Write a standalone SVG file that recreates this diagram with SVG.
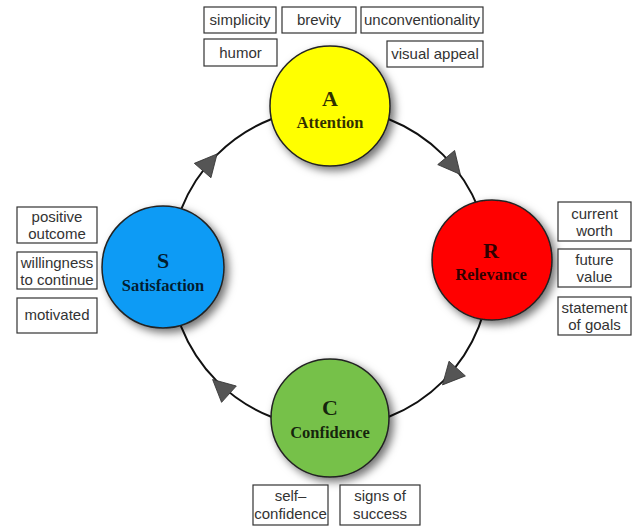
<svg xmlns="http://www.w3.org/2000/svg" width="638" height="527" viewBox="0 0 638 527">
<defs>
<filter id="sh" x="-30%" y="-30%" width="160%" height="160%">
<feDropShadow dx="4" dy="4" stdDeviation="4" flood-color="#000" flood-opacity="0.55"/>
</filter>
<style>
.box{fill:#fff;stroke:#333;stroke-width:1.2}
.lbl{font-family:"Liberation Sans",Arial,sans-serif;font-size:15px;fill:#333;text-anchor:middle}
.node{stroke:#222;stroke-width:1.5;filter:url(#sh)}
.big{font-family:"Liberation Serif","Times New Roman",serif;font-weight:bold;font-size:22px;text-anchor:middle;fill:#000;fill-opacity:0.82}
.name{font-family:"Liberation Serif","Times New Roman",serif;font-weight:bold;font-size:16.5px;text-anchor:middle;fill:#000;fill-opacity:0.82}
.ring{fill:none;stroke:#111;stroke-width:2}
.arr{fill:#555;stroke:#333;stroke-width:0.8}
</style>
</defs>
<rect width="638" height="527" fill="#fff"/>
<g id="connectors">
<circle class="ring" cx="330" cy="268" r="160"/>
<polygon class="arr" points="12,0 -10,-11 -10,11" transform="translate(452.6,165.2) rotate(50)"/>
<polygon class="arr" points="12,0 -10,-11 -10,11" transform="translate(450.5,376) rotate(132)"/>
<polygon class="arr" points="12,0 -10,-11 -10,11" transform="translate(221.5,387.5) rotate(222)"/>
<polygon class="arr" points="12,0 -10,-11 -10,11" transform="translate(209.2,163) rotate(311)"/>
</g>
<g id="node-A">
<circle class="node" cx="330" cy="106" r="60" fill="#ffff00"/>
<text class="big" x="330" y="106">A</text>
<text class="name" x="330" y="128">Attention</text>
</g>
<g id="node-R">
<circle class="node" cx="492" cy="260" r="60" fill="#ff0000"/>
<text class="big" x="491" y="258">R</text>
<text class="name" x="491" y="280">Relevance</text>
</g>
<g id="node-C">
<circle class="node" cx="330" cy="418" r="59" fill="#76c14a"/>
<text class="big" x="330" y="415">C</text>
<text class="name" x="330" y="438">Confidence</text>
</g>
<g id="node-S">
<circle class="node" cx="163" cy="267" r="61" fill="#0a9bf5"/>
<text class="big" x="163" y="268">S</text>
<text class="name" x="163" y="291">Satisfaction</text>
</g>
<g id="box-simplicity"><rect class="box" x="204" y="7" width="72" height="26"/><text class="lbl" x="240" y="25">simplicity</text></g>
<g id="box-brevity"><rect class="box" x="282" y="7" width="74" height="26"/><text class="lbl" x="319" y="25">brevity</text></g>
<g id="box-unconventionality"><rect class="box" x="361" y="7" width="122" height="26"/><text class="lbl" x="422" y="25">unconventionality</text></g>
<g id="box-humor"><rect class="box" x="204" y="39" width="73" height="27"/><text class="lbl" x="240.5" y="58">humor</text></g>
<g id="box-visual-appeal"><rect class="box" x="387" y="41" width="96" height="26"/><text class="lbl" x="435" y="59">visual appeal</text></g>
<g id="box-current-worth"><rect class="box" x="558" y="202" width="73" height="39"/><text class="lbl" x="594.5" y="219">current</text><text class="lbl" x="594.5" y="236">worth</text></g>
<g id="box-future-value"><rect class="box" x="558" y="249" width="73" height="38"/><text class="lbl" x="594.5" y="265">future</text><text class="lbl" x="594.5" y="282">value</text></g>
<g id="box-statement"><rect class="box" x="558" y="297" width="73" height="38"/><text class="lbl" x="594.5" y="313">statement</text><text class="lbl" x="594.5" y="330">of goals</text></g>
<g id="box-positive-outcome"><rect class="box" x="17" y="207" width="80" height="36"/><text class="lbl" x="57" y="222">positive</text><text class="lbl" x="57" y="239">outcome</text></g>
<g id="box-willingness"><rect class="box" x="17" y="252" width="80" height="37"/><text class="lbl" x="57" y="268">willingness</text><text class="lbl" x="57" y="285">to continue</text></g>
<g id="box-motivated"><rect class="box" x="17" y="298" width="80" height="35"/><text class="lbl" x="57" y="320">motivated</text></g>
<g id="box-self-confidence"><rect class="box" x="253" y="485" width="75" height="40"/><text class="lbl" x="290.5" y="501">self–</text><text class="lbl" x="290.5" y="519">confidence</text></g>
<g id="box-signs-of-success"><rect class="box" x="340" y="485" width="80" height="40"/><text class="lbl" x="380" y="501">signs of</text><text class="lbl" x="380" y="519">success</text></g>
</svg>
